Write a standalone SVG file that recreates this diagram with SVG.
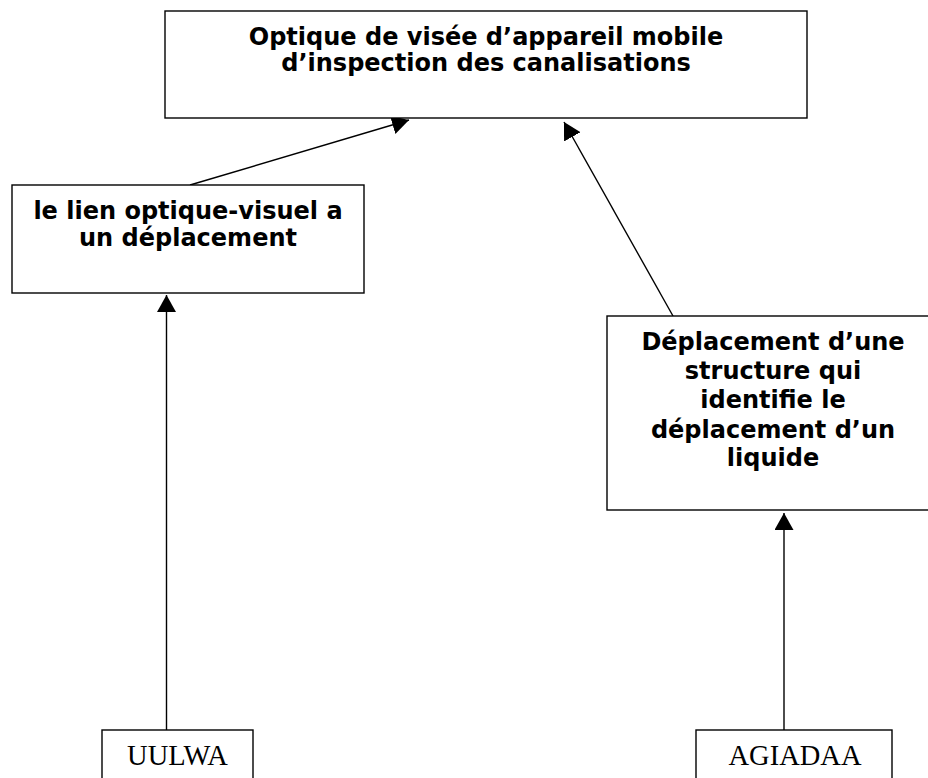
<svg xmlns="http://www.w3.org/2000/svg" width="928" height="778" viewBox="0 0 928 778">
  <style>
    .box { fill: #ffffff; stroke: #000000; stroke-width: 1.4; }
    .lbl { font-family: "DejaVu Sans", Verdana, sans-serif; font-weight: bold; font-size: 24px; fill: #000000; text-anchor: middle; }
    .code { font-family: "Liberation Serif", "Times New Roman", serif; font-size: 28.5px; fill: #000000; text-anchor: middle; }
    .link { stroke: #000000; stroke-width: 1.4; fill: none; marker-end: url(#head); }
  </style>
  <defs>
    <marker id="head" markerUnits="userSpaceOnUse" markerWidth="18" markerHeight="20" refX="17" refY="9.5" orient="auto">
      <path d="M0,0 L17,9.5 L0,19 z" fill="#000000"/>
    </marker>
  </defs>
  <rect width="928" height="778" fill="#ffffff"/>

  <g id="connectors">
    <line class="link" x1="190" y1="185" x2="409" y2="120"/>
    <line class="link" x1="673" y1="316" x2="564" y2="122"/>
    <line class="link" x1="166.5" y1="730" x2="166.5" y2="295"/>
    <line class="link" x1="784" y1="730" x2="784" y2="513"/>
  </g>

  <g id="optique">
    <rect class="box" x="165" y="11" width="642" height="107"/>
    <text class="lbl" x="486" y="45">Optique de visée d’appareil mobile</text>
    <text class="lbl" x="486" y="71">d’inspection des canalisations</text>
  </g>

  <g id="lien">
    <rect class="box" x="12" y="185" width="352" height="108"/>
    <text class="lbl" x="188" y="219">le lien optique-visuel a</text>
    <text class="lbl" x="188" y="246">un déplacement</text>
  </g>

  <g id="deplacement">
    <rect class="box" x="607" y="316" width="340" height="194"/>
    <text class="lbl" x="773" y="350">Déplacement d’une</text>
    <text class="lbl" x="773" y="379">structure qui</text>
    <text class="lbl" x="773" y="408">identifie le</text>
    <text class="lbl" x="773" y="438">déplacement d’un</text>
    <text class="lbl" x="773" y="466">liquide</text>
  </g>

  <g id="uulwa">
    <rect class="box" x="102" y="730" width="151" height="60"/>
    <text class="code" x="177.5" y="765">UULWA</text>
  </g>

  <g id="agiadaa">
    <rect class="box" x="696" y="730" width="196" height="60"/>
    <text class="code" x="795" y="765">AGIADAA</text>
  </g>
</svg>
